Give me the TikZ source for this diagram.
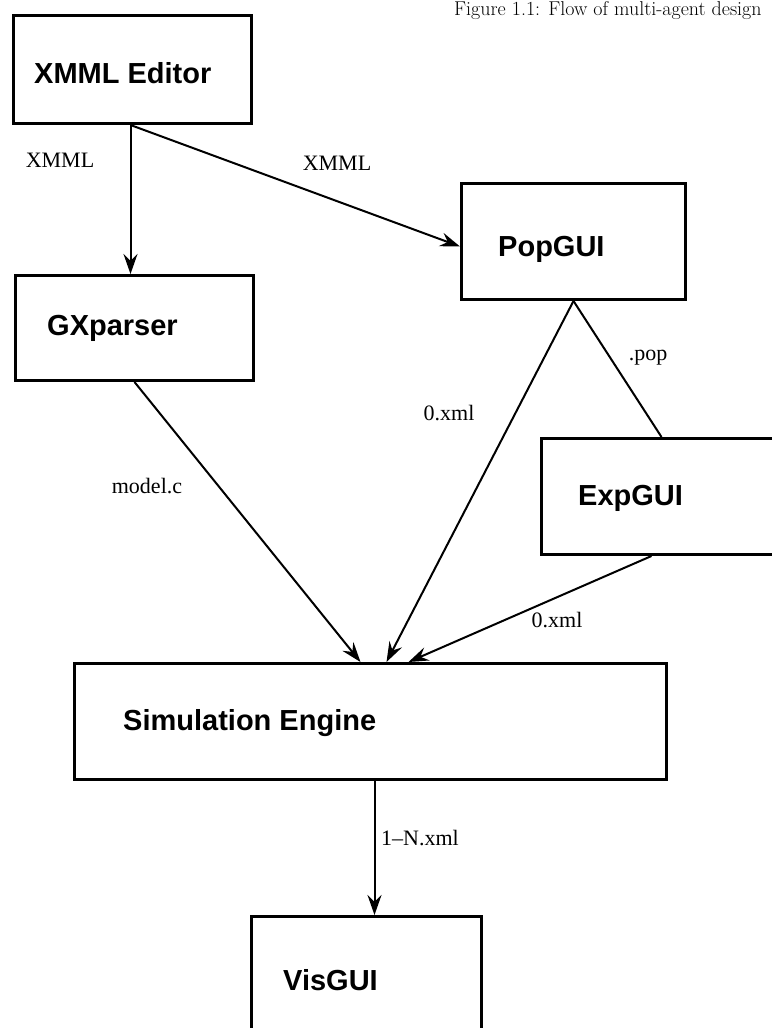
\documentclass[tikz,border=0pt]{standalone}
\usepackage{fontspec}
\newfontfamily\boxfont{Liberation Sans}
\newfontfamily\lblfont{Liberation Serif}
\usetikzlibrary{arrows.meta,calc}
\tikzset{
  blk/.style={draw=black, line width=3pt, fill=white, inner sep=0pt, anchor=north west},
  blktext/.style={font=\boxfont\bfseries\fontsize{29}{33}\selectfont, inner sep=0pt, anchor=west},
  lbl/.style={font=\lblfont\fontsize{22}{26}\selectfont, inner sep=0pt},
  flow/.style={line width=2pt, -{Stealth[length=20pt,width=14pt,inset=7pt]}},
  link/.style={line width=2pt}
}
\begin{document}
\begin{tikzpicture}[x=1pt,y=-1pt]
\useasboundingbox (0,0) rectangle (771,1028);
% caption
\node[anchor=base west, inner sep=0pt, font=\fontsize{20}{22}\selectfont] (cap) at (454,15.5) {Figure 1.1: Flow of multi-agent design};
% boxes
\node[blk, minimum width=238pt, minimum height=108pt] (ed) at (12,14) {};
\node[blk, minimum width=238pt, minimum height=105pt] (gx) at (14,274) {};
\node[blk, minimum width=224pt, minimum height=116pt] (pop) at (460,182) {};
\node[blk, minimum width=240pt, minimum height=116pt] (exp) at (540,437) {};
\node[blk, minimum width=592pt, minimum height=116pt] (sim) at (73,662) {};
\node[blk, minimum width=230pt, minimum height=130pt] (vis) at (250,915) {};
% box texts
\node[blktext] (edt) at ([xshift=22pt,yshift=-4pt]ed.west) {XMML Editor};
\node[blktext] (gxt) at ([xshift=33pt]gx.west) {GXparser};
\node[blktext] (popt) at ([xshift=38pt,yshift=-8pt]pop.west) {PopGUI};
\node[blktext] (expt) at ([xshift=38pt,yshift=-2pt]exp.west) {ExpGUI};
\node[blktext] (simt) at ([xshift=50pt,yshift=-2pt]sim.west) {Simulation Engine};
\node[blktext] (vist) at ([xshift=33pt]vis.north west) [yshift=-65pt] {VisGUI};
% connectors
\coordinate (edo) at ([xshift=-2pt]ed.south);
\draw[flow] (edo) -- (edo |- gx.north);
\draw[flow] (edo) -- ([yshift=-5pt]pop.west);
\draw[flow] (gx.south) -- ([xshift=-10pt]sim.north);
\draw[flow] (pop.south) -- ([xshift=16pt]sim.north);
\draw[link] (pop.south) -- (exp.north);
\draw[flow] ([xshift=-10pt]exp.south) -- ([xshift=38pt]sim.north);
\coordinate (simo) at ([xshift=4pt]sim.south);
\draw[flow] (simo) -- (simo |- vis.north);
% labels
\node[lbl] (l1) at (60,160) {XMML};
\node[lbl] (l2) at (337,163) {XMML};
\node[lbl] (l3) at (648,358) {.pop};
\node[lbl] (l4) at (449,413) {0.xml};
\node[lbl] (l5) at (147,486) {model.c};
\node[lbl] (l6) at (557,620) {0.xml};
\node[lbl] (l7) at (420,838) {1–N.xml};
\end{tikzpicture}
\end{document}
